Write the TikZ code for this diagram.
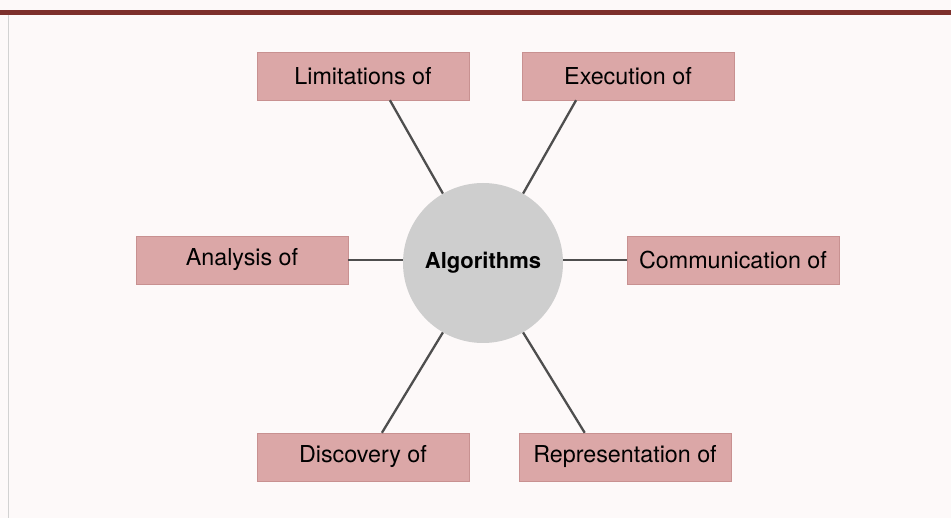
\documentclass[tikz,border=0pt]{standalone}
\usepackage{fontspec}
\setmainfont{TeX Gyre Heros}
\definecolor{boxpink}{RGB}{219,167,167}
\definecolor{boxedge}{RGB}{200,145,145}
\definecolor{hubgray}{RGB}{206,206,206}
\definecolor{barred}{RGB}{125,48,44}
\definecolor{paper}{RGB}{253,249,249}
\definecolor{spoke}{RGB}{78,78,78}
\begin{document}
\begin{tikzpicture}[x=1pt, y=-1pt,
        topic/.style={fill=boxpink, draw=boxedge, line width=0.4pt, minimum width=212pt, minimum height=48pt, inner sep=0pt, font=\fontsize{23.3}{27}\selectfont},
        hub/.style={circle, fill=hubgray, minimum size=160pt, inner sep=0pt, font=\fontsize{22}{26}\selectfont\bfseries},
        link/.style={spoke, line width=2.3pt}]
        \useasboundingbox (0,0) rectangle (951,518);
        \fill[paper] (0,0) rectangle (951,518);

        \draw[barred, line width=4.5pt] (0,12.5) -- (951,12.5);
        \draw[gray!35, line width=0.8pt] (8,15) -- (8,518);

        \node[hub] (alg) at (483,263) {Algorithms};

        \node[topic] (lim) at (363,76) {Limitations of};
        \node[topic] (exe) at (628,76) {Execution of};
        \node[topic] (ana) at (242,260) {Analysis of};
        \node[topic] (com) at (733,260) {Communication of};
        \node[topic] (dis) at (363,457) {Discovery of};
        \node[topic] (rep) at (625,457) {Representation of};

        \draw[link] (lim.-42) -- (alg.120);
        \draw[link] (exe.-155) -- (alg.60);
        \draw[link] (ana.east) -- (ana.east -| alg.west);
        \draw[link] (com.west) -- (com.west -| alg.east);
        \draw[link] (dis.52) -- (alg.240);
        \draw[link] (rep.149) -- (alg.-60);
    \end{tikzpicture}
\end{document}
